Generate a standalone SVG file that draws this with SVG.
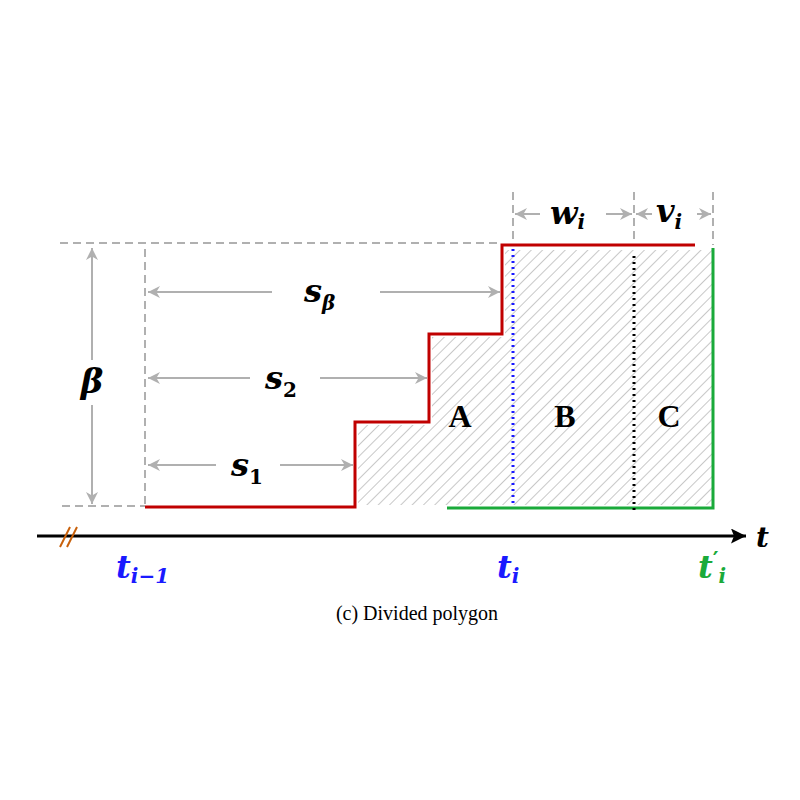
<svg xmlns="http://www.w3.org/2000/svg" width="800" height="800" viewBox="0 0 800 800">
<defs>
<pattern id="hatch" patternUnits="userSpaceOnUse" width="8" height="8" patternTransform="rotate(45)">
<line x1="0" y1="0" x2="0" y2="8" stroke="#c8c8c8" stroke-width="2"/>
</pattern>
<marker id="ga" viewBox="0 0 10 10" refX="10" refY="5" markerWidth="12" markerHeight="12" orient="auto" markerUnits="userSpaceOnUse">
<path d="M0,0 L10,5 L0,10 L3,5 z" fill="#b0b0b0"/>
</marker>
<marker id="ba" viewBox="0 0 10 10" refX="10" refY="5" markerWidth="15" markerHeight="15" orient="auto" markerUnits="userSpaceOnUse">
<path d="M0,0 L10,5 L0,10 L2,5 z" fill="#000"/>
</marker>
</defs>
<style>
.dash{stroke:#b0b0b0;stroke-width:2;stroke-dasharray:8,5;fill:none}
.dim{stroke:#b0b0b0;stroke-width:2;fill:none}
.m{font-family:"DejaVu Serif","Liberation Serif",serif;font-weight:bold;font-style:italic}
.big{font-family:"Liberation Serif",serif;font-weight:bold;font-size:32px;text-anchor:middle}
</style>
<rect width="800" height="800" fill="#fff"/>
<g id="hatched-area">
<polygon points="358,425 432,425 432,337 505,337 505,250 712,250 712,505 358,505" fill="url(#hatch)"/>
</g>
<g id="guides">
<line class="dash" x1="60" y1="243" x2="502" y2="243"/>
<line class="dash" x1="145" y1="249" x2="145" y2="506"/>
<line class="dash" x1="62" y1="506" x2="145" y2="506"/>
<line class="dash" x1="513" y1="192" x2="513" y2="243"/>
<line class="dash" x1="634" y1="192" x2="634" y2="245"/>
<line class="dash" x1="713" y1="192" x2="713" y2="245"/>
</g>
<g id="connectors">
<line class="dim" x1="92" y1="360" x2="92" y2="248" marker-end="url(#ga)"/>
<line class="dim" x1="92" y1="405" x2="92" y2="504" marker-end="url(#ga)"/>
<line class="dim" x1="272" y1="292" x2="148" y2="292" marker-end="url(#ga)"/>
<line class="dim" x1="380" y1="292" x2="500" y2="292" marker-end="url(#ga)"/>
<line class="dim" x1="250" y1="378" x2="148" y2="378" marker-end="url(#ga)"/>
<line class="dim" x1="320" y1="378" x2="427" y2="378" marker-end="url(#ga)"/>
<line class="dim" x1="216" y1="465" x2="148" y2="465" marker-end="url(#ga)"/>
<line class="dim" x1="280" y1="465" x2="353" y2="465" marker-end="url(#ga)"/>
<line class="dim" x1="540" y1="214" x2="515" y2="214" marker-end="url(#ga)"/>
<line class="dim" x1="606" y1="214" x2="632" y2="214" marker-end="url(#ga)"/>
<line class="dim" x1="652" y1="214" x2="636" y2="214" marker-end="url(#ga)"/>
<line class="dim" x1="697" y1="214" x2="711" y2="214" marker-end="url(#ga)"/>
</g>
<g id="red-step">
<polyline points="145,507 355,507 355,422 429,422 429,334 502,334 502,245 695,245" fill="none" stroke="#c00000" stroke-width="3"/>
</g>
<g id="green-line">
<polyline points="447,508 713,508 713,248" fill="none" stroke="#1aaa3a" stroke-width="3"/>
</g>
<g id="dividers">
<line x1="513" y1="249" x2="513" y2="505" stroke="#1a1aff" stroke-width="3" stroke-dasharray="2,4"/>
<line x1="634" y1="256" x2="634" y2="514" stroke="#000" stroke-width="3" stroke-dasharray="2,4"/>
</g>
<g id="axis">
<line x1="37" y1="536" x2="746" y2="536" stroke="#000" stroke-width="3" marker-end="url(#ba)"/>
<line x1="60" y1="547" x2="70" y2="527" stroke="#c8600a" stroke-width="2"/>
<line x1="67" y1="547" x2="77" y2="527" stroke="#c8600a" stroke-width="2"/>
</g>
<g id="labels">
<text class="m" x="92" y="393" font-size="34" text-anchor="middle">β</text>
<text class="m" x="304" y="302" font-size="32">s<tspan font-size="20" dy="8">β</tspan></text>
<text class="m" x="265" y="389" font-size="32">s<tspan font-size="20" dy="8" font-style="normal">2</tspan></text>
<text class="m" x="231" y="476" font-size="32">s<tspan font-size="20" dy="8" font-style="normal">1</tspan></text>
<text class="m" x="550" y="224" font-size="32">w<tspan font-size="20" dy="5">i</tspan></text>
<text class="m" x="656" y="222" font-size="32">v<tspan font-size="20" dy="7">i</tspan></text>
<text class="big" x="460" y="427">A</text>
<text class="big" x="565" y="427">B</text>
<text class="big" x="669" y="427">C</text>
<text class="m" x="756" y="547" font-size="28">t</text>
<text class="m" x="116" y="578" font-size="32" fill="#1a1aff">t<tspan font-size="20" dy="5">i−1</tspan></text>
<text class="m" x="497" y="578" font-size="32" fill="#1a1aff">t<tspan font-size="20" dy="5">i</tspan></text>
<text class="m" x="698" y="578" font-size="32" fill="#1aaa3a">t<tspan font-size="22" dy="-11" font-style="normal" font-family="DejaVu Sans,sans-serif">′</tspan><tspan font-size="20" dy="16">i</tspan></text>
<text x="417" y="620" font-family="Liberation Serif,serif" font-size="20" text-anchor="middle">(c) Divided polygon</text>
</g>
</svg>
